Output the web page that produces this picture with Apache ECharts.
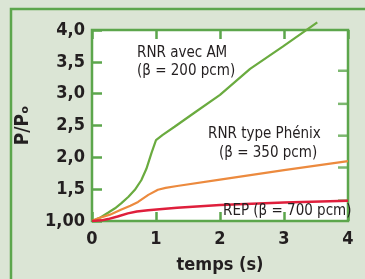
<!DOCTYPE html>
<html>
<head>
<meta charset="utf-8">
<script src="https://cdn.jsdelivr.net/npm/echarts@6/dist/echarts.min.js"></script>
<style>
  html, body { margin: 0; padding: 0; background: #dbe5d5; }
  #chart { width: 365px; height: 279px; }
</style>
</head>
<body>
<div id="chart"></div>
<script>
// temps (s) / P/Po
var rnrAM = [[0, 1.0], [0.12, 1.05], [0.25, 1.13], [0.36, 1.2], [0.46, 1.28], [0.57, 1.38], [0.67, 1.49],
  [0.77, 1.64], [0.85, 1.82], [0.93, 2.07], [1.0, 2.27], [1.1, 2.35], [1.29, 2.48], [1.6, 2.7],
  [2.0, 2.98], [2.47, 3.39], [2.98, 3.74], [3.52, 4.12]];
var rnrPhenix = [[0, 1.0], [0.09, 1.04], [0.28, 1.1], [0.46, 1.18], [0.6, 1.24], [0.72, 1.30],
  [0.88, 1.41], [1.03, 1.49], [1.15, 1.52], [1.33, 1.55], [2.0, 1.65], [3.0, 1.80], [4.0, 1.94]];
var rep = [[0, 1.0], [0.15, 1.01], [0.25, 1.03], [0.4, 1.07], [0.56, 1.12], [0.7, 1.15], [0.875, 1.17],
  [1.1, 1.19], [1.33, 1.21], [2.0, 1.25], [3.0, 1.29], [4.0, 1.32]];
var xTicks = [0, 1, 2, 3, 4];
var yTicks = [1.0, 1.5, 2.0, 2.5, 3.0, 3.5, 4.0];
// graduations du bord droit (décalées sur l'original)
var rightTicks = [1.32, 1.84, 2.34, 2.84, 3.36];

var green = "#6aab3f";
var frame = "#5ca64c";
var font = "DejaVu Sans Condensed";

var chart = echarts.init(document.getElementById("chart"));

var tickStyle = { color: frame, width: 2.5 };

var option = {
  backgroundColor: "#dbe5d5",
  animation: false,
  graphic: [
    // cadre extérieur
    {
      type: "rect",
      shape: { x: 11, y: 9, width: 400, height: 300 },
      style: { fill: "none", stroke: frame, lineWidth: 2.5 },
      z: 0
    },
    {
      type: "text", left: 137, top: 46,
      style: { text: "RNR avec AM", font: "15px " + font, fill: "#231f20" }, z: 100
    },
    {
      type: "text", left: 137, top: 64,
      style: { text: "(β = 200 pcm)", font: "15px " + font, fill: "#231f20" }, z: 100
    },
    {
      type: "text", left: 208, top: 127,
      style: { text: "RNR type Phénix", font: "15px " + font, fill: "#231f20" }, z: 100
    },
    {
      type: "text", left: 219, top: 146,
      style: { text: "(β = 350 pcm)", font: "15px " + font, fill: "#231f20" }, z: 100
    },
    {
      type: "text", left: 223, top: 204,
      style: { text: "REP (β = 700 pcm)", font: "15px " + font, fill: "#231f20" }, z: 100
    }
  ],
  grid: {
    left: 92,
    top: 30,
    width: 256,
    height: 197,
    show: true,
    backgroundColor: "#fff",
    borderColor: frame,
    borderWidth: 2.5
  },
  xAxis: [
    {
      type: "value",
      min: 0,
      max: 4,
      interval: 1,
      z: 3,
      name: "temps (s)",
      nameLocation: "middle",
      nameGap: 35,
      nameTextStyle: { fontFamily: font, fontWeight: "bold", fontSize: 18, color: "#231f20" },
      axisLine: { show: false },
      axisTick: { show: true, inside: true, length: 9, lineStyle: tickStyle },
      axisLabel: {
        margin: 9,
        fontFamily: font, fontWeight: "bold", fontSize: 18, color: "#231f20",
        formatter: function (v) { return xTicks.indexOf(v) >= 0 ? String(v) : ""; }
      },
      splitLine: { show: false }
    },
    {
      type: "value",
      position: "top",
      min: 0,
      max: 4,
      interval: 1,
      z: 3,
      axisLine: { show: false },
      axisTick: { show: true, inside: true, length: 9, lineStyle: tickStyle },
      axisLabel: { show: false },
      splitLine: { show: false }
    }
  ],
  yAxis: {
    type: "value",
    min: 1,
    max: 4,
    interval: 0.5,
    z: 3,
    name: "P/Pₒ",
    nameLocation: "middle",
    nameGap: 59,
    nameTextStyle: { fontFamily: font, fontWeight: "bold", fontSize: 19, color: "#231f20" },
    axisLine: { show: false },
    axisTick: { show: true, inside: true, length: 10, lineStyle: tickStyle },
    axisLabel: {
      margin: 7,
      fontFamily: font, fontWeight: "bold", fontSize: 18, color: "#231f20",
      formatter: function (v) {
        if (yTicks.indexOf(v) < 0) return "";
        return v === 1 ? "1,00" : v.toFixed(1).replace(".", ",");
      }
    },
    splitLine: { show: false }
  },
  series: [
    {
      name: "RNR avec AM",
      type: "line",
      data: rnrAM,
      showSymbol: false,
      clip: false,
      lineStyle: { color: green, width: 2.2 },
      z: 5
    },
    {
      name: "RNR type Phénix",
      type: "line",
      data: rnrPhenix,
      showSymbol: false,
      lineStyle: { color: "#ec8a3e", width: 2.2 },
      z: 5
    },
    {
      name: "REP",
      type: "line",
      data: rep,
      showSymbol: false,
      lineStyle: { color: "#df1f3c", width: 2.5 },
      z: 5
    },
    {
      // petites graduations du bord droit
      type: "scatter",
      data: rightTicks.map(function (v) { return [4, v]; }),
      symbol: "rect",
      symbolSize: [10, 2.5],
      symbolOffset: [-5, 0],
      itemStyle: { color: frame },
      silent: true,
      z: 3
    }
  ]
};

chart.setOption(option);
</script>
</body>
</html>
